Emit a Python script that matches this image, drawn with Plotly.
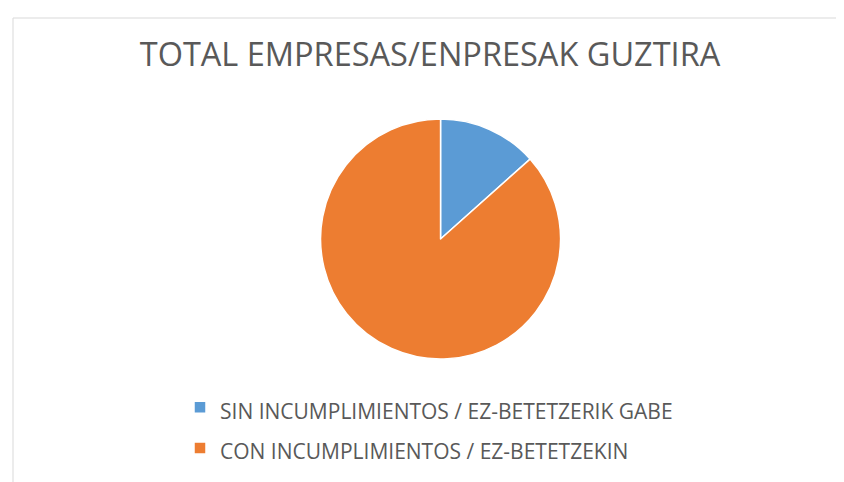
import plotly.graph_objects as go

title_text = "TOTAL EMPRESAS/ENPRESAK GUZTIRA"
categories = ["SIN INCUMPLIMIENTOS / EZ-BETETZERIK GABE",
              "CON INCUMPLIMIENTOS / EZ-BETETZEKIN"]
values = [13.4, 86.6]
colors = ["#5B9BD5", "#ED7D31"]

W, H = 844, 482
FONT = "'Open Sans', sans-serif"

# legend label text shown at 21px while the legend row height follows the legend font size
legend_labels = ["<span style='font-size:21px'>%s</span>" % c for c in categories]

fig = go.Figure(go.Pie(
    labels=legend_labels,
    values=values,
    sort=False,
    direction="clockwise",
    rotation=0,
    marker=dict(colors=colors, line=dict(color="white", width=1.5)),
    textinfo="none",
    hoverinfo="percent",
    domain=dict(x=[0.025, 1.0], y=[1 - 351 / H, 1 - 111 / H]),
))

fig.update_layout(
    width=W, height=H,
    margin=dict(l=0, r=0, t=0, b=0),
    paper_bgcolor="white",
    font=dict(family=FONT, color="#595959"),
    title=dict(text=title_text, x=0.5, xanchor="center",
               y=1 - 47 / H, yanchor="middle",
               font=dict(size=32.5, color="#595959", family=FONT)),
    legend=dict(orientation="v", x=172 / W, xanchor="left",
                y=1 - 374 / H, yanchor="top",
                font=dict(size=29, color="#595959", family=FONT),
                bgcolor="rgba(0,0,0,0)"),
    shapes=[dict(type="rect", xref="paper", yref="paper",
                 x0=5 / W, x1=838 / W, y0=-0.05, y1=1 - 10 / H,
                 line=dict(color="#D9D9D9", width=1), fillcolor="rgba(0,0,0,0)",
                 layer="below")],
)

fig.write_html("out.html")
